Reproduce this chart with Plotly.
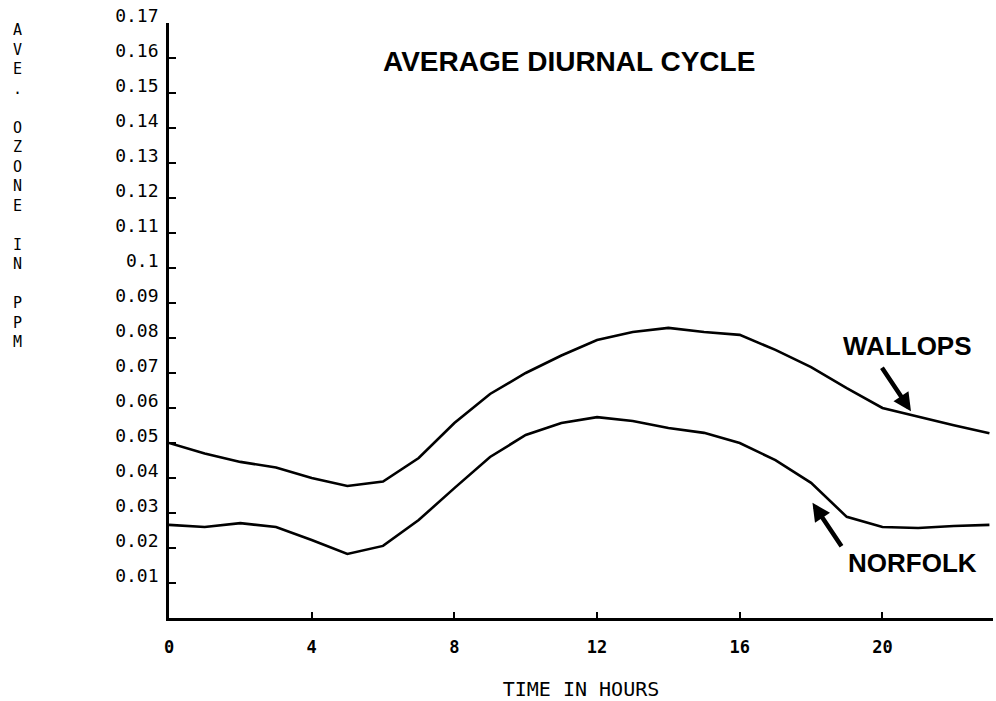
import plotly.graph_objects as go

hours = list(range(24))
wallops = [0.0500, 0.0470, 0.0446, 0.0430, 0.0400, 0.0377, 0.0390, 0.0457,
           0.0557, 0.0640, 0.0700, 0.0750, 0.0794, 0.0817, 0.0829, 0.0817,
           0.0809, 0.0766, 0.0717, 0.0657, 0.0600, 0.0575, 0.0551, 0.0528]
norfolk = [0.0266, 0.0260, 0.0271, 0.0260, 0.0223, 0.0183, 0.0206, 0.0280,
           0.0371, 0.0460, 0.0523, 0.0557, 0.0574, 0.0563, 0.0543, 0.0529,
           0.0500, 0.0451, 0.0386, 0.0289, 0.0260, 0.0257, 0.0263, 0.0266]

y_tickvals = [round(0.01 * i, 2) for i in range(1, 18)]
y_ticktext = ["0.01", "0.02", "0.03", "0.04", "0.05", "0.06", "0.07", "0.08", "0.09",
              "0.1", "0.11", "0.12", "0.13", "0.14", "0.15", "0.16", "0.17"]
x_tickvals = [0, 4, 8, 12, 16, 20]
x_ticktext = ["0", "4", "8", "12", "16", "20"]

title_text = "AVERAGE DIURNAL CYCLE"
x_title = "TIME IN HOURS"
y_title = "AVE. OZONE IN PPM"

mono = "DejaVu Sans Mono"
sans = "Liberation Sans, Arial, sans-serif"

fig = go.Figure()
fig.add_trace(go.Scatter(x=hours, y=wallops, mode="lines", name="WALLOPS",
                         line=dict(color="black", width=2.6)))
fig.add_trace(go.Scatter(x=hours, y=norfolk, mode="lines", name="NORFOLK",
                         line=dict(color="black", width=2.6)))

fig.update_layout(
    width=996, height=701,
    margin=dict(l=169, r=3, t=23, b=83),
    paper_bgcolor="white", plot_bgcolor="white",
    showlegend=False,
    xaxis=dict(range=[0, 23.1], tickvals=x_tickvals, ticktext=x_ticktext,
               ticks="inside", ticklen=6, tickwidth=2, tickcolor="black",
               showline=True, linewidth=2.8, linecolor="black",
               showgrid=False, zeroline=False,
               tickfont=dict(family=mono, size=17, color="black", weight="bold"),
               ticklabelstandoff=12,
               title=dict(text=x_title, font=dict(family=mono, size=20, color="black"),
                          standoff=26)),
    yaxis=dict(range=[0, 0.17], tickvals=y_tickvals, ticktext=y_ticktext,
               ticks="inside", ticklen=7, tickwidth=2, tickcolor="black",
               showline=True, linewidth=2.8, linecolor="black",
               showgrid=False, zeroline=False,
               tickfont=dict(family=mono, size=18, color="black"),
               ticklabelstandoff=4, ticklabelshift=-7),
)

fig.add_annotation(text=title_text, xref="paper", yref="paper",
                   x=0.486, y=0.935, xanchor="center", yanchor="middle", showarrow=False,
                   font=dict(family=sans, size=28, color="black", weight="bold"))

fig.add_annotation(text="<br>".join(c if c != " " else "&nbsp;" for c in y_title),
                   xref="paper", yref="paper", x=0, y=0.726, xshift=-152,
                   xanchor="center", yanchor="middle", showarrow=False, align="center",
                   font=dict(family=mono, size=15, color="black"))

fig.add_annotation(text="WALLOPS", xref="x", yref="y", x=20.7, y=0.0778,
                   showarrow=False, xanchor="center", yanchor="middle",
                   font=dict(family=sans, size=26, color="black", weight="bold"))
fig.add_annotation(text="", xref="x", yref="y", x=20.8, y=0.0591, ax=-30, ay=-45,
                   showarrow=True, arrowhead=2, arrowsize=0.8, arrowwidth=4.5,
                   arrowcolor="black")

fig.add_annotation(text="NORFOLK", xref="x", yref="y", x=20.85, y=0.0157,
                   showarrow=False, xanchor="center", yanchor="middle",
                   font=dict(family=sans, size=26, color="black", weight="bold"))
fig.add_annotation(text="", xref="x", yref="y", x=18.04, y=0.0329, ax=30, ay=45,
                   showarrow=True, arrowhead=2, arrowsize=0.8, arrowwidth=4.5,
                   arrowcolor="black")

fig.write_html("out.html")
